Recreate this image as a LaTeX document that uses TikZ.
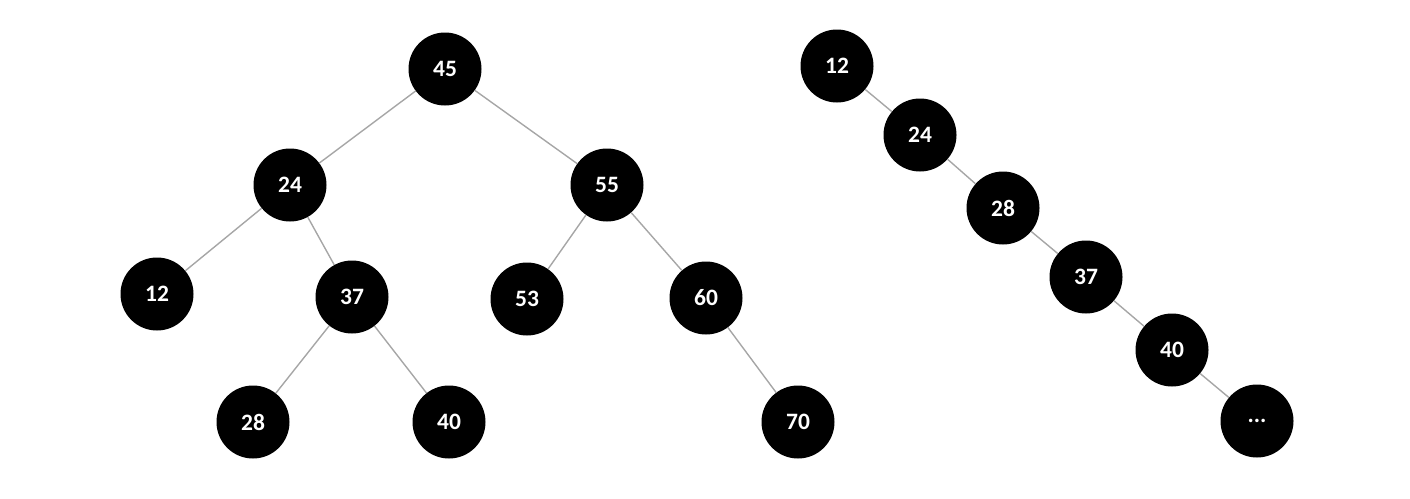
\documentclass[tikz,border=0pt]{standalone}
\usepackage{fontspec}
\setmainfont{Carlito}
\begin{document}
\begin{tikzpicture}[x=1pt,y=-1pt,
  nd/.style={circle,fill=black,draw=none,minimum size=73pt,inner sep=0pt,text=white,font=\fontsize{23.5}{23.5}\selectfont\bfseries},
  ed/.style={draw=black!35,line width=1.4pt}]
\useasboundingbox (0,0) rectangle (1410,498);
\node[nd] (a45) at (445,69) {45};
\node[nd] (a24) at (290,185) {24};
\node[nd] (a55) at (607,185) {55};
\node[nd] (a12) at (157,294) {12};
\node[nd] (a37) at (352,297) {37};
\node[nd] (a53) at (527,299) {53};
\node[nd] (a60) at (706,298) {60};
\node[nd] (a28) at (253,422) {28};
\node[nd] (a40) at (449,422) {40};
\node[nd] (a70) at (798,422) {70};
\node[nd] (b12) at (837,66) {12};
\node[nd] (b24) at (920,135) {24};
\node[nd] (b28) at (1003,208) {28};
\node[nd] (b37) at (1086,277) {37};
\node[nd] (b40) at (1172,350) {40};
\node[nd] (bdots) at (1257,421) {...};
\draw[ed] (a45) -- (a24);
\draw[ed] (a45) -- (a55);
\draw[ed] (a24) -- (a12);
\draw[ed] (a24) -- (a37);
\draw[ed] (a37) -- (a28);
\draw[ed] (a37) -- (a40);
\draw[ed] (a55) -- (a53);
\draw[ed] (a55) -- (a60);
\draw[ed] (a60) -- (a70);
\draw[ed] (b12) -- (b24);
\draw[ed] (b24) -- (b28);
\draw[ed] (b28) -- (b37);
\draw[ed] (b37) -- (b40);
\draw[ed] (b40) -- (bdots);
\end{tikzpicture}
\end{document}
